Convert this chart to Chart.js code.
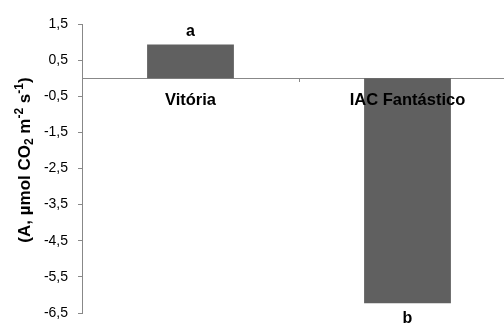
<!DOCTYPE html>
<html lang="pt">
<head>
    <meta charset="UTF-8">
    <title>Fotossíntese líquida</title>
    <script src="https://cdn.jsdelivr.net/npm/chart.js@4.4.0/dist/chart.umd.min.js"></script>
    <style>
        html, body { margin: 0; padding: 0; background: #fff; overflow: hidden; }
        #wrap { width: 516px; height: 325px; }
    </style>
</head>
<body>
    <div id="wrap"><canvas id="chart"></canvas></div>

    <script>
        // dados
        const cultivares = ['Vitória', 'IAC Fantástico'];
        const valores = [0.93, -6.23];
        const letras = ['a', 'b'];
        const yTicks = [1.5, 0.5, -0.5, -1.5, -2.5, -3.5, -4.5, -5.5, -6.5];

        const fonte = 'Arial, "Liberation Sans", sans-serif';

        // letras de significância acima/abaixo das barras
        const letrasPlugin = {
            id: 'letras',
            afterDatasetsDraw(chart) {
                const ctx = chart.ctx;
                const bars = chart.getDatasetMeta(0).data;
                ctx.save();
                ctx.font = 'bold 16px ' + fonte;
                ctx.fillStyle = '#000';
                ctx.textAlign = 'center';
                bars.forEach((bar, i) => {
                    if (valores[i] >= 0) {
                        ctx.textBaseline = 'alphabetic';
                        ctx.fillText(letras[i], bar.x, bar.y - 9);
                    } else {
                        ctx.textBaseline = 'top';
                        ctx.fillText(letras[i], bar.x, bar.y + 7);
                    }
                });
                ctx.restore();
            }
        };

        // titulo do eixo y com sub/sobrescritos
        const tituloPlugin = {
            id: 'tituloY',
            afterDraw(chart) {
                const ctx = chart.ctx;
                const partes = [
                    ['(A, µmol CO', 0], ['2', 1], [' m', 0], ['-2', -1], [' s', 0], ['-1', -1], [')', 0]
                ];
                const big = 'bold 17px ' + fonte, small = 'bold 12px ' + fonte;
                ctx.save();
                let total = 0;
                partes.forEach(p => { ctx.font = p[1] ? small : big; total += ctx.measureText(p[0]).width; });
                ctx.translate(25, 160);
                ctx.rotate(-Math.PI / 2);
                ctx.fillStyle = '#000';
                ctx.textBaseline = 'middle';
                ctx.textAlign = 'left';
                let x = -total / 2;
                partes.forEach(p => {
                    ctx.font = p[1] ? small : big;
                    ctx.fillText(p[0], x, p[1] * 5);
                    x += ctx.measureText(p[0]).width;
                });
                ctx.restore();
            }
        };

        const ctx = document.getElementById('chart').getContext('2d');
        new Chart(ctx, {
            type: 'bar',
            data: {
                labels: cultivares,
                datasets: [{
                    data: valores,
                    backgroundColor: '#606060',
                    borderWidth: 0,
                    barPercentage: 0.4,
                    categoryPercentage: 1
                }]
            },
            options: {
                responsive: true,
                maintainAspectRatio: false,
                animation: false,
                layout: { padding: { top: 24, bottom: 12, left: 0, right: 0 } },
                plugins: { legend: { display: false }, tooltip: { enabled: false } },
                scales: {
                    x: {
                        position: { y: 0 },
                        grid: { drawOnChartArea: false, tickLength: 3, color: '#888' },
                        border: { color: '#888' },
                        ticks: {
                            z: 1,
                            color: '#000',
                            padding: 9,
                            maxRotation: 0,
                            font: { family: fonte, size: 16.5, weight: 'bold' }
                        }
                    },
                    y: {
                        min: -6.5,
                        max: 1.5,
                        afterBuildTicks: s => { s.ticks = yTicks.map(v => ({ value: v })); },
                        afterFit: s => { s.width = 82; s.paddingTop = 0; s.paddingBottom = 0; },
                        grid: { drawOnChartArea: false, tickLength: 4, color: '#888' },
                        border: { color: '#888' },
                        ticks: {
                            color: '#000',
                            padding: 10,
                            font: { family: fonte, size: 14 },
                            callback: v => v.toFixed(1).replace('.', ',')
                        }
                    }
                }
            },
            plugins: [letrasPlugin, tituloPlugin]
        });
    </script>
</body>
</html>
